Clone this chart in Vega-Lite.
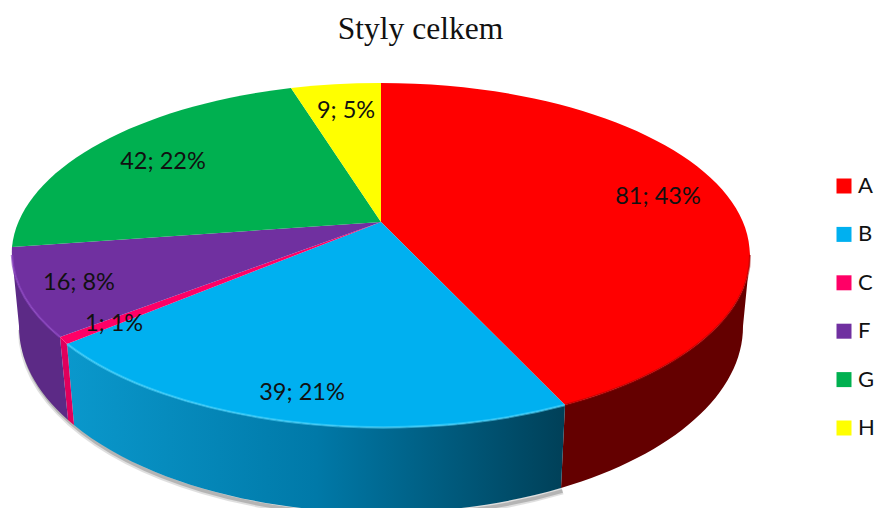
{
"$schema":"https://vega.github.io/schema/vega-lite/v6.json",
"width":875,"height":508,"padding":0,"autosize":{"type":"none"},
"background":"white",
"title":{"text":"Styly celkem","font":"Liberation Serif","fontSize":31.5,"fontWeight":"normal","color":"#111111","anchor":"middle","dx":-17,"dy":45,"offset":0},
"view":{"stroke":null},
"config":{"axis":{"domain":false,"grid":false,"ticks":false,"labels":false,"title":null}},
"data":{"values":[
{"style":"A","count":81,"label":"81; 43%"},
{"style":"B","count":39,"label":"39; 21%"},
{"style":"C","count":1,"label":"1; 1%"},
{"style":"F","count":16,"label":"16; 8%"},
{"style":"G","count":42,"label":"42; 22%"},
{"style":"H","count":9,"label":"9; 5%"}
]},
"layer":[
{"transform":[{"filter":"datum.style==='B'"}],
 "mark":{"type":"point","filled":false,"opacity":0.18,"size":4,"stroke":"#555555","strokeWidth":7,"shape":"M-416,76 A362,186 0 0 0 125,237"},"encoding":{}},
{"transform":[{"filter":"datum.style==='B'"}],
 "mark":{"type":"point","filled":false,"opacity":0.3,"size":4,"stroke":"#555555","strokeWidth":3.5,"shape":"M-416,76 A362,186 0 0 0 125,237"},"encoding":{}},
{"transform":[{"filter":"datum.style==='A'"}],
 "mark":{"type":"point","filled":true,"opacity":1,"size":4,"fill":"#640000","strokeWidth":0,"shape":"M127.5,151 A369,172 0 0 0 312.5,1 L305.5,72 A362,186 0 0 1 123.5,234 Z"},"encoding":{}},
{"transform":[{"filter":"datum.style==='B'"}],
 "mark":{"type":"point","filled":true,"opacity":1,"size":4,"strokeWidth":0,"fill":{"gradient":"linear","x1":0,"y1":0,"x2":1,"y2":0,"stops":[{"offset":0,"color":"#0a98cc"},{"offset":0.5,"color":"#0079a8"},{"offset":1,"color":"#004058"}]},"shape":"M127.5,151 L123.5,234 A362,186 0 0 1 -363.5,171 L-370.5,90 A369,172 0 0 0 127.5,151 Z"},"encoding":{}},
{"transform":[{"filter":"datum.style==='C'"}],
 "mark":{"type":"point","filled":true,"opacity":1,"size":4,"fill":"#e0005c","strokeWidth":0,"shape":"M-370.5,90 L-363.5,171 A362,186 0 0 1 -369.5,166 L-377.5,83 A369,172 0 0 0 -370.5,90 Z"},"encoding":{}},
{"transform":[{"filter":"datum.style==='F'"}],
 "mark":{"type":"point","filled":true,"opacity":1,"size":4,"fill":"#5c2a86","strokeWidth":0,"shape":"M-377.5,83 L-369.5,166 A362,186 0 0 1 -418.5,72 L-425.5,1 A369,172 0 0 0 -377.5,83 Z"},"encoding":{}},
{"mark":{"type":"point","filled":true,"opacity":1,"size":4,"strokeWidth":0},
 "encoding":{
  "color":{"field":"style","type":"nominal","scale":{"domain":["A","B","C","F","G","H"],"range":["#ff0000","#00b0f0","#ff0066","#7030a0","#00b050","#ffff00"]},
   "legend":{"title":null,"orient":"none","legendX":833,"legendY":175,"symbolType":"square","symbolSize":225,"symbolStrokeWidth":0,"labelFont":"Lato","labelFontSize":22,"labelColor":"#111111","labelOffset":3,"rowPadding":26.4,"symbolOpacity":1}},
  "shape":{"field":"style","type":"nominal","legend":null,"scale":{"domain":["A","B","C","F","G","H"],"range":[
   "M-56.5,-32 L-56.5,-171 A369,172 0 0 1 312.5,1 A369,172 0 0 1 127.5,151 Z",
   "M-56.5,-32 L127.5,151 A369,172 0 0 1 -370.5,90 Z",
   "M-56.5,-32 L-370.5,90 A369,172 0 0 1 -377.5,83 Z",
   "M-56.5,-32 L-377.5,83 A369,172 0 0 1 -425.5,-7 Z",
   "M-56.5,-32 L-425.5,-7 A369,172 0 0 1 -146.5,-166 Z",
   "M-56.5,-32 L-146.5,-166 A369,172 0 0 1 -56.5,-171 Z"
  ]}}
 }},
{"transform":[{"filter":"datum.style==='B'"}],
 "mark":{"type":"point","filled":false,"opacity":0.55,"size":4,"stroke":"#4fd8ff","strokeWidth":2.5,"shape":"M127.5,151 A369,172 0 0 1 -370.5,90"},"encoding":{}},
{"transform":[{"filter":"datum.style==='A'"}],
 "mark":{"type":"point","filled":false,"opacity":0.5,"size":4,"stroke":"#a00000","strokeWidth":2,"shape":"M127.5,151 A369,172 0 0 0 312.5,1"},"encoding":{}},
{"transform":[{"filter":"datum.style==='F'"}],
 "mark":{"type":"point","filled":false,"opacity":0.7,"size":4,"stroke":"#8a44c0","strokeWidth":2.5,"shape":"M-377.5,83 A369,172 0 0 1 -425.5,1"},"encoding":{}},
{"transform":[{"filter":"datum.style==='A'"}],"mark":{"type":"text","font":"Lato","fontSize":23.5,"color":"#111111"},"encoding":{"text":{"field":"label"},"x":{"datum":658,"type":"quantitative","scale":{"domain":[0,875]},"axis":null},"y":{"datum":197,"type":"quantitative","scale":{"domain":[508,0]},"axis":null}}},
{"transform":[{"filter":"datum.style==='B'"}],"mark":{"type":"text","font":"Lato","fontSize":23.5,"color":"#111111"},"encoding":{"text":{"field":"label"},"x":{"datum":302,"type":"quantitative","scale":{"domain":[0,875]},"axis":null},"y":{"datum":393,"type":"quantitative","scale":{"domain":[508,0]},"axis":null}}},
{"transform":[{"filter":"datum.style==='C'"}],"mark":{"type":"text","font":"Lato","fontSize":23.5,"color":"#111111"},"encoding":{"text":{"field":"label"},"x":{"datum":114,"type":"quantitative","scale":{"domain":[0,875]},"axis":null},"y":{"datum":324,"type":"quantitative","scale":{"domain":[508,0]},"axis":null}}},
{"transform":[{"filter":"datum.style==='F'"}],"mark":{"type":"text","font":"Lato","fontSize":23.5,"color":"#111111"},"encoding":{"text":{"field":"label"},"x":{"datum":79,"type":"quantitative","scale":{"domain":[0,875]},"axis":null},"y":{"datum":283,"type":"quantitative","scale":{"domain":[508,0]},"axis":null}}},
{"transform":[{"filter":"datum.style==='G'"}],"mark":{"type":"text","font":"Lato","fontSize":23.5,"color":"#111111"},"encoding":{"text":{"field":"label"},"x":{"datum":163,"type":"quantitative","scale":{"domain":[0,875]},"axis":null},"y":{"datum":162,"type":"quantitative","scale":{"domain":[508,0]},"axis":null}}},
{"transform":[{"filter":"datum.style==='H'"}],"mark":{"type":"text","font":"Lato","fontSize":23.5,"color":"#111111"},"encoding":{"text":{"field":"label"},"x":{"datum":346,"type":"quantitative","scale":{"domain":[0,875]},"axis":null},"y":{"datum":111,"type":"quantitative","scale":{"domain":[508,0]},"axis":null}}}
],
"resolve":{"scale":{"shape":"independent"}}
}
